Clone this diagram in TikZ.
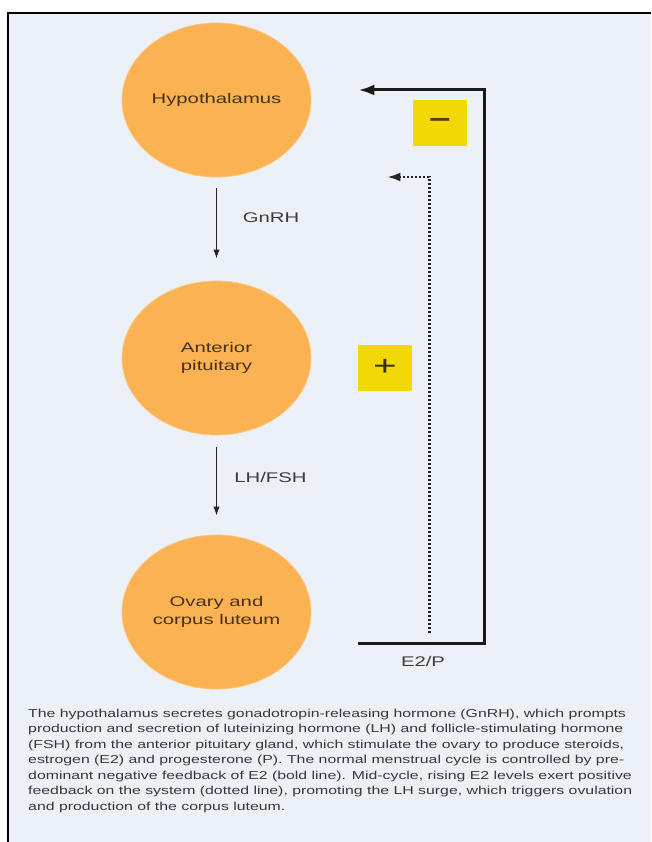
\documentclass[tikz,border=0pt]{standalone}
\usepackage{fontspec}
\setmainfont{Liberation Sans}
\usepackage{graphicx}
\usetikzlibrary{arrows.meta,shapes.geometric}
\definecolor{bgblue}{RGB}{236,240,247}
\definecolor{organfill}{RGB}{250,178,82}
\definecolor{organedge}{RGB}{252,200,130}
\definecolor{signfill}{RGB}{243,216,8}
\definecolor{organtext}{RGB}{72,50,22}
\definecolor{labeltext}{RGB}{60,60,62}
\definecolor{signtext}{RGB}{80,66,0}
\newcommand{\wx}[1]{\scalebox{1.45}[1]{#1}}
\begin{document}
\begin{tikzpicture}[x=1pt,y=-1pt,
  organ/.style={ellipse, fill=organfill, draw=organedge, line width=0.8pt,
    minimum width=189pt, minimum height=154pt, inner sep=0pt,
    text=organtext, font=\fontsize{14}{17.5}\selectfont, align=center},
  hormone/.style={text=labeltext, font=\fontsize{14}{17}\selectfont, inner sep=0pt},
  thinarrow/.style={draw=black!85, line width=1.3pt, -{Latex[length=9pt,width=6.5pt]}},
  negline/.style={draw=black!90, line width=3pt, -{Latex[length=16pt,width=11pt]}},
  posline/.style={draw=black!85, line width=2.2pt, dash pattern=on 2pt off 2pt,
    -{Latex[length=13pt,width=9pt]}},
  signbox/.style={fill=signfill, minimum width=54pt, minimum height=46pt, inner sep=0pt}
]
\useasboundingbox (0,0) rectangle (651,842);
\fill[white] (0,0) rectangle (651,842);
\fill[bgblue] (8,13) rectangle (651,842);
\draw[line width=1.3pt] (8,842) -- (8,13) -- (651,13);

% organs
\node[organ] (hyp) at (216.5,100) {\wx{Hypothalamus}};
\node[organ] (ant) at (216.5,358) {\wx{Anterior}\\\wx{pituitary}};
\node[organ] (ova) at (216.5,612) {\wx{Ovary and}\\\wx{corpus luteum}};

% forward hormone arrows
\draw[thinarrow, shorten <=11pt, shorten >=22pt] (hyp) -- (ant);
\draw[thinarrow, shorten <=12pt, shorten >=19pt] (ant) -- (ova);
\node[hormone] (gnrh) at (271,218) {\wx{GnRH}};
\node[hormone] (lhfsh) at (270.5,477) {\wx{LH/FSH}};

% feedback
\draw[negline] ([shift={(47pt,-31pt)}]ova.east) -- ++(126,0)
   |- ([shift={(47pt,10pt)}]hyp.east);
\draw[posline] ([shift={(118pt,-21pt)}]ova.east) |- ([shift={(76pt,-77pt)}]hyp.east);
\node[hormone] (e2p) at (423,661) {\wx{E2/P}};

% signs
\node[signbox] (minus) at (440,123) {\fontsize{26}{26}\selectfont\bfseries\color{signtext}\wx{−}};
\node[signbox] (plus) at (385,367.5) {\fontsize{28}{28}\selectfont\color{signtext!70!black}\wx{+}};

% caption
\node[anchor=north west, inner sep=0pt, text=black!78] (caption) at (28,706)
{\resizebox{604pt}{\height}{\fontsize{11.5}{15.5}\selectfont\begin{tabular}{@{}l@{}}
The hypothalamus secretes gonadotropin-releasing hormone (GnRH), which prompts\\
production and secretion of luteinizing hormone (LH) and follicle-stimulating hormone\\
(FSH) from the anterior pituitary gland, which stimulate the ovary to produce steroids,\\
estrogen (E2) and progesterone (P). The normal menstrual cycle is controlled by pre-\\
dominant negative feedback of E2 (bold line). Mid-cycle, rising E2 levels exert positive\\
feedback on the system (dotted line), promoting the LH surge, which triggers ovulation\\
and production of the corpus luteum.
\end{tabular}}};
\end{tikzpicture}
\end{document}
